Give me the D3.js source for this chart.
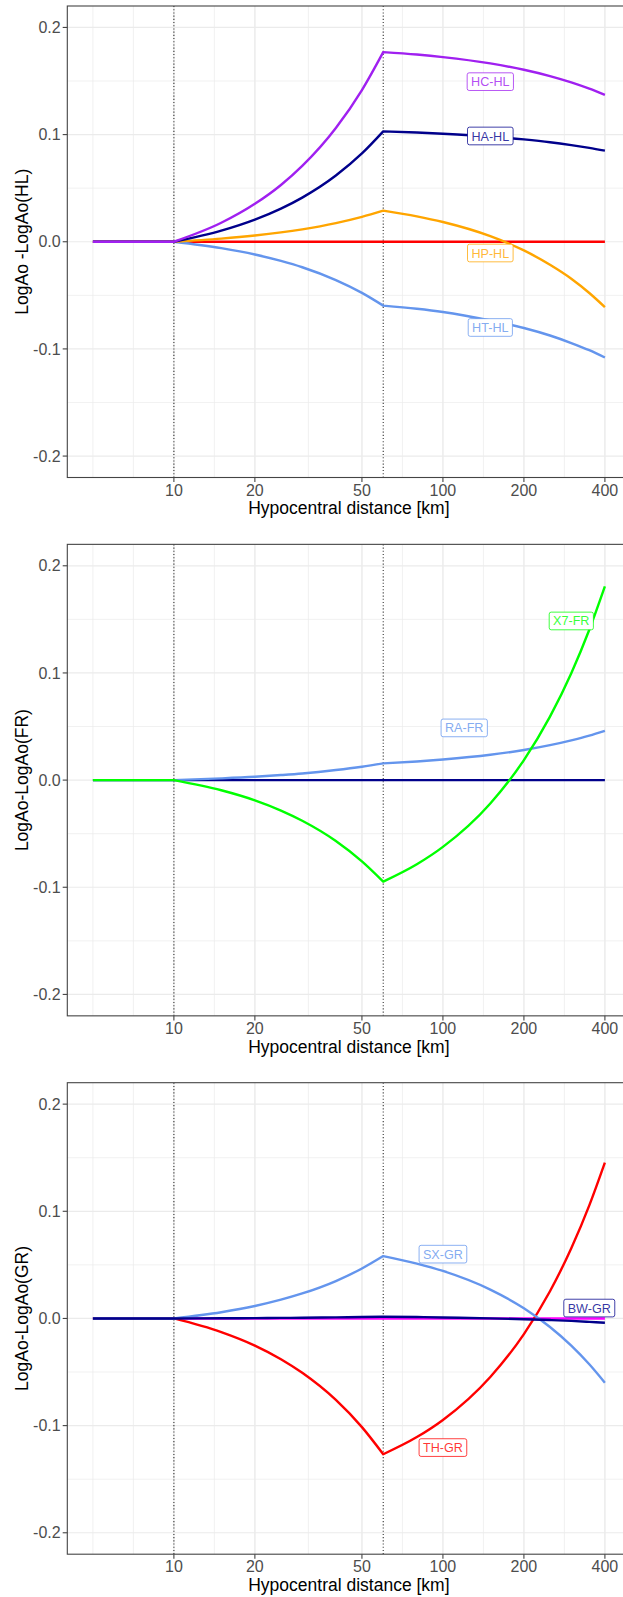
<!DOCTYPE html>
<html><head><meta charset="utf-8">
<script src="https://cdn.jsdelivr.net/npm/d3@7/dist/d3.min.js"></script>
<style>
html,body{margin:0;padding:0;background:#fff;}
svg{display:block;font-family:"Liberation Sans",Arial,Helvetica,sans-serif;}
</style></head>
<body>
<svg id="chart" width="623" height="1597"></svg>
<script>
// ---------- data ----------
const distances = [5, 10, 15, 20, 25, 30, 40, 50, 60, 80, 100, 150, 200, 250, 300, 350, 400];
const xBreaks = [10, 20, 50, 100, 200, 400];
const yBreaks = [-0.2, -0.1, 0.0, 0.1, 0.2];
const yLabels = ["-0.2", "-0.1", "0.0", "0.1", "0.2"];
const hingeDistances = [10, 60];
const yLimits = [-0.2, 0.2];

// Panel 1: reference HL
const hlNames  = ["HL-HL", "HT-HL", "HP-HL", "HA-HL", "HC-HL"];
const hlColors = ["#FF0000", "#6495ED", "#FFA500", "#00008B", "#A020F0"];
const hlHL = [0,0,0,0,0,0,0,0,0,0,0,0,0,0,0,0,0];
const hlHT = [0,0,-0.006,-0.0119,-0.0179,-0.0238,-0.0358,-0.0477,-0.0596,-0.0625,-0.0655,-0.0735,-0.0805,-0.0875,-0.0945,-0.1012,-0.108];
const hlHP = [0,0,0.0029,0.0058,0.0087,0.0116,0.0174,0.0232,0.029,0.0237,0.0184,0.0052,-0.0081,-0.0215,-0.0345,-0.0478,-0.061];
const hlHA = [0,0,0.0103,0.0206,0.0309,0.0412,0.0618,0.0824,0.103,0.1019,0.1008,0.0982,0.0955,0.0929,0.0902,0.0876,0.085];
const hlHC = [0,0,0.0177,0.0354,0.053,0.0708,0.1062,0.1416,0.177,0.1747,0.1723,0.1664,0.1605,0.1546,0.1487,0.1428,0.137];
const hlLabelText = ["HC-HL", "HA-HL", "HP-HL", "HT-HL"];
const hlLabelR    = [150, 150, 150, 150];
const hlLabelVal  = [0.1494, 0.0987, -0.0105, -0.080];
const hlLabelCol  = ["#A020F0", "#00008B", "#FFA500", "#6495ED"];

// Panel 2: reference FR
const frNames  = ["FR-FR", "RA-FR", "X7-FR"];
const frColors = ["#00008B", "#6495ED", "#00FF00"];
const frFR = [0,0,0,0,0,0,0,0,0,0,0,0,0,0,0,0,0];
const frRA = [0,0,0.0016,0.0031,0.0047,0.0062,0.0094,0.0125,0.0156,0.0174,0.0192,0.0236,0.0281,0.0326,0.0371,0.0415,0.046];
const frX7 = [0,0,-0.0095,-0.0189,-0.0284,-0.0379,-0.0568,-0.0758,-0.0947,-0.0785,-0.0623,-0.0218,0.0187,0.0592,0.0997,0.1403,0.1808];
const frLabelText = ["X7-FR", "RA-FR"];
const frLabelR    = [300, 120];
const frLabelVal  = [0.1485, 0.0487];
const frLabelCol  = ["#00FF00", "#6495ED"];

// Panel 3: reference GR
const grNames  = ["GR-GR", "TH-GR", "SX-GR", "BW-GR"];
const grColors = ["#FF00FF", "#FF0000", "#6495ED", "#00008B"];
const grGR = [0,0,0,0,0,0,0,0,0,0,0,0,0,0,0,0,0];
const grTH = [0,0,-0.0127,-0.0253,-0.038,-0.0507,-0.076,-0.1014,-0.1267,-0.1107,-0.0947,-0.0546,-0.0146,0.0254,0.0655,0.1055,0.1455];
const grSX = [0,0,0.0058,0.0116,0.0175,0.0233,0.0349,0.0466,0.0582,0.0512,0.0443,0.0269,0.0095,-0.008,-0.0254,-0.0428,-0.060];
const grBW = [0,0,0.0002,0.0003,0.0005,0.0006,0.001,0.0013,0.0016,0.0013,0.0009,0.0001,-0.0007,-0.0015,-0.0023,-0.0032,-0.004];
const grLabelText = ["SX-GR", "BW-GR", "TH-GR"];
const grLabelR    = [100, 350, 100];
const grLabelVal  = [0.060, 0.0097, -0.1205];
const grLabelCol  = ["#6495ED", "#00008B", "#FF0000"];

const yTitles = ["LogAo -LogAo(HL)", "LogAo-LogAo(FR)", "LogAo-LogAo(GR)"];
const xTitle = "Hypocentral distance [km]";

const panels = [
  {series: [hlHL, hlHT, hlHP, hlHA, hlHC], colors: hlColors, lt: hlLabelText, lr: hlLabelR, lv: hlLabelVal, lc: hlLabelCol},
  {series: [frFR, frRA, frX7], colors: frColors, lt: frLabelText, lr: frLabelR, lv: frLabelVal, lc: frLabelCol},
  {series: [grGR, grTH, grSX, grBW], colors: grColors, lt: grLabelText, lr: grLabelR, lv: grLabelVal, lc: grLabelCol}
];

// ---------- layout ----------
const svg = d3.select("#chart");
const blockH = 538.35;
const pL = 67.3, pR = 630.5, pT = 6, pB = 477.5;
const tickFont = 16, titleFont = 17.5, labelFont = 12.6;
const tickLen = 4.6;

// log scale with 5% expansion (in log space)
const lx0 = Math.log10(d3.min(distances)), lx1 = Math.log10(d3.max(distances));
const ex = (lx1 - lx0) * 0.05;
const x = d3.scaleLog().domain([Math.pow(10, lx0 - ex), Math.pow(10, lx1 + ex)]).range([pL, pR]);
const yex = (yLimits[1] - yLimits[0]) * 0.05;

// minor breaks: geometric midpoints between majors (extended one step each side)
const lb = xBreaks.map(Math.log10);
const step = lb[1] - lb[0];
const ext = [lb[0] - step, ...lb, lb[lb.length - 1] + step];
const xMinor = [];
for (let i = 0; i < ext.length - 1; i++) {
  xMinor.push(ext[i], (ext[i] + ext[i + 1]) / 2);
}
const xDom = x.domain().map(Math.log10);
const xMinorIn = xMinor.filter(v => v >= xDom[0] && v <= xDom[1]).map(v => Math.pow(10, v));
const yMinor = [-0.25, -0.15, -0.05, 0.05, 0.15, 0.25];

const gridCol = "#EBEBEB";
const axisCol = "#444";

panels.forEach((p, pi) => {
  const oy = pi * blockH;
  const g = svg.append("g").attr("transform", `translate(0,${oy})`);
  const y = d3.scaleLinear().domain([yLimits[0] - yex, yLimits[1] + yex]).range([pB, pT]);

  const clipId = "clip" + pi;
  g.append("clipPath").attr("id", clipId).append("rect")
    .attr("x", pL).attr("y", pT).attr("width", pR - pL).attr("height", pB - pT);
  const body = g.append("g").attr("clip-path", `url(#${clipId})`);

  // minor grid
  body.selectAll(".xm").data(xMinorIn).join("line")
    .attr("x1", d => x(d)).attr("x2", d => x(d)).attr("y1", pT).attr("y2", pB)
    .attr("stroke", gridCol).attr("stroke-width", 0.7);
  body.selectAll(".ym").data(yMinor.filter(v => v > y.domain()[0] && v < y.domain()[1])).join("line")
    .attr("x1", pL).attr("x2", pR).attr("y1", d => y(d)).attr("y2", d => y(d))
    .attr("stroke", gridCol).attr("stroke-width", 0.7);
  // major grid
  body.selectAll(".xM").data(xBreaks).join("line")
    .attr("x1", d => x(d)).attr("x2", d => x(d)).attr("y1", pT).attr("y2", pB)
    .attr("stroke", gridCol).attr("stroke-width", 1.2);
  body.selectAll(".yM").data(yBreaks).join("line")
    .attr("x1", pL).attr("x2", pR).attr("y1", d => y(d)).attr("y2", d => y(d))
    .attr("stroke", gridCol).attr("stroke-width", 1.2);

  // dotted hinge lines
  body.selectAll(".vh").data(hingeDistances).join("line")
    .attr("x1", d => x(d)).attr("x2", d => x(d)).attr("y1", pT).attr("y2", pB)
    .attr("stroke", "#333").attr("stroke-width", 1.1).attr("stroke-dasharray", "1.1,2.1");

  // series lines, drawn piecewise so that kinks at hinges are kept
  const line = d3.line().x(d => x(d[0])).y(d => y(d[1])).curve(d3.curveMonotoneX);
  const cuts = hingeDistances.map(h => distances.indexOf(h));
  p.series.forEach((vals, si) => {
    const pts = distances.map((r, i) => [r, vals[i]]);
    const segs = [pts.slice(0, cuts[0] + 1), pts.slice(cuts[0], cuts[1] + 1), pts.slice(cuts[1])];
    let dstr = "";
    segs.forEach((s, k) => {
      let ds = line(s);
      if (k > 0) ds = "L" + ds.slice(1);
      dstr += ds;
    });
    body.append("path").attr("d", dstr).attr("fill", "none")
      .attr("stroke", p.colors[si]).attr("stroke-width", 2.4)
      .attr("stroke-linejoin", "round").attr("stroke-linecap", "butt");
  });

  // labels
  p.lt.forEach((t, li) => {
    const cx = x(p.lr[li]), cy = y(p.lv[li]);
    const lg = g.append("g");
    const txt = lg.append("text").attr("x", cx).attr("y", cy + labelFont * 0.36)
      .attr("text-anchor", "middle").attr("font-size", labelFont)
      .attr("fill", p.lc[li]).attr("fill-opacity", 0.8).text(t);
    const bb = txt.node().getBBox();
    const pad = 3.9;
    const h = labelFont * 0.72 + 2 * pad + 0.8;
    lg.insert("rect", "text")
      .attr("x", bb.x - pad).attr("y", cy - h / 2)
      .attr("width", bb.width + 2 * pad).attr("height", h)
      .attr("rx", 2).attr("ry", 2)
      .attr("fill", "#fff").attr("stroke", p.lc[li]).attr("stroke-opacity", 0.75).attr("stroke-width", 1);
  });

  // panel border
  g.append("rect").attr("x", pL).attr("y", pT).attr("width", pR - pL).attr("height", pB - pT)
    .attr("fill", "none").attr("stroke", axisCol).attr("stroke-width", 1.1);

  // y axis ticks + labels
  g.selectAll(".yt").data(yBreaks).join("line")
    .attr("x1", pL - tickLen).attr("x2", pL).attr("y1", d => y(d)).attr("y2", d => y(d))
    .attr("stroke", axisCol).attr("stroke-width", 1.1);
  g.selectAll(".yl").data(yBreaks).join("text")
    .attr("x", pL - 6.6).attr("y", d => y(d) + tickFont * 0.355)
    .attr("text-anchor", "end").attr("font-size", tickFont).attr("fill", "#4D4D4D")
    .text((d, i) => yLabels[i]);

  // x axis ticks + labels
  g.selectAll(".xt").data(xBreaks).join("line")
    .attr("x1", d => x(d)).attr("x2", d => x(d)).attr("y1", pB).attr("y2", pB + tickLen)
    .attr("stroke", axisCol).attr("stroke-width", 1.1);
  g.selectAll(".xl").data(xBreaks).join("text")
    .attr("x", d => x(d)).attr("y", 495.8)
    .attr("text-anchor", "middle").attr("font-size", tickFont).attr("fill", "#4D4D4D")
    .text(d => d3.format("d")(d));

  // titles
  g.append("text").attr("x", (pL + pR) / 2).attr("y", 514.3)
    .attr("text-anchor", "middle").attr("font-size", titleFont).attr("fill", "#000").text(xTitle);
  g.append("text").attr("transform", `translate(28.3,${(pT + pB) / 2}) rotate(-90)`)
    .attr("text-anchor", "middle").attr("font-size", titleFont).attr("fill", "#000").text(yTitles[pi]);
});
</script>
</body></html>
